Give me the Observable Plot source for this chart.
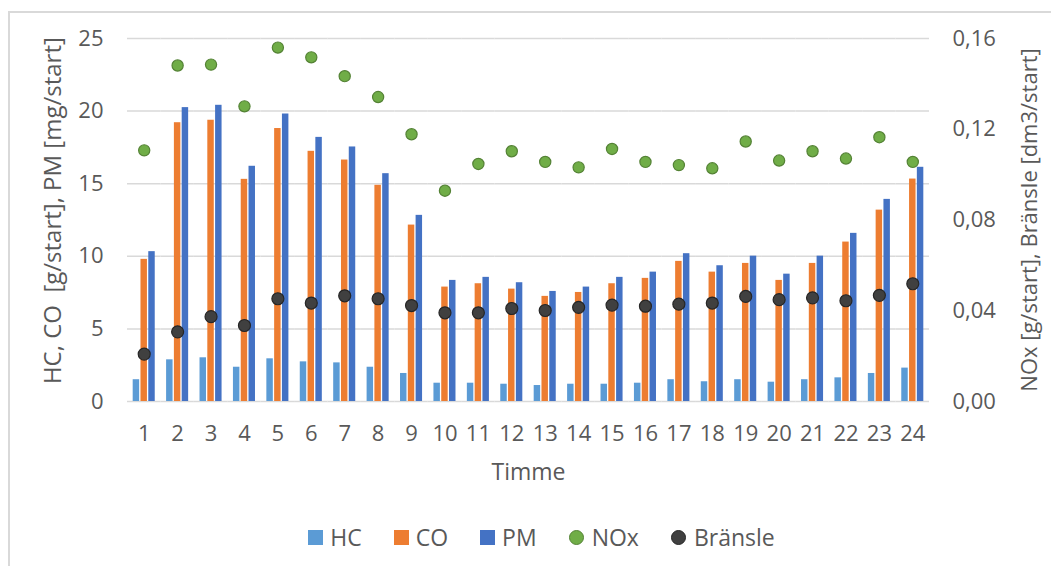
<!DOCTYPE html>
<html>
<head>
<meta charset="utf-8">
<script src="https://cdn.jsdelivr.net/npm/d3@7"></script>
<script src="https://cdn.jsdelivr.net/npm/@observablehq/plot@0.6"></script>
<style>
  html, body { margin: 0; padding: 0; background: #fff; overflow: hidden; }
  body { width: 1051px; height: 566px; position: relative; font-family: "Open Sans", sans-serif; color: #595959; }
  #frame { position: absolute; left: 8px; top: 11px; width: 1060px; height: 570px; border-left: 2px solid #d9d9d9; border-top: 2px solid #d9d9d9; }
  #chart { position: absolute; left: 0; top: 0; }
  #legend { position: absolute; left: 0; top: 522px; width: 1051px; height: 30px; display: flex; justify-content: center; align-items: center; padding-left: 32px; box-sizing: border-box; font-size: 23px; }
  .item { display: flex; align-items: center; margin: 0 16px; }
  .sw { width: 15px; height: 15px; margin-right: 7px; }
  .dot { width: 13px; height: 13px; border-radius: 50%; margin-right: 8px; }
</style>
</head>
<body>
<div id="frame"></div>
<div id="chart"></div>
<div id="legend"></div>
<script>
// ---- data ----
const hours = [1, 2, 3, 4, 5, 6, 7, 8, 9, 10, 11, 12, 13, 14, 15, 16, 17, 18, 19, 20, 21, 22, 23, 24];
const HC = [1.50, 2.87, 3.01, 2.36, 2.94, 2.73, 2.66, 2.36, 1.93, 1.26, 1.26, 1.19, 1.10, 1.19, 1.19, 1.26, 1.50, 1.36, 1.50, 1.33, 1.50, 1.63, 1.93, 2.30];
const CO = [9.79, 19.20, 19.37, 15.30, 18.80, 17.23, 16.63, 14.89, 12.15, 7.88, 8.11, 7.74, 7.24, 7.51, 8.11, 8.48, 9.65, 8.91, 9.51, 8.34, 9.51, 10.98, 13.18, 15.32];
const PM = [10.32, 20.24, 20.40, 16.20, 19.80, 18.19, 17.53, 15.69, 12.82, 8.34, 8.55, 8.18, 7.58, 7.88, 8.55, 8.91, 10.18, 9.35, 10.01, 8.77, 10.01, 11.58, 13.92, 16.13];
const NOx = [0.1107, 0.1481, 0.1485, 0.1301, 0.1560, 0.1517, 0.1434, 0.1342, 0.1178, 0.0929, 0.1047, 0.1103, 0.1056, 0.1032, 0.1113, 0.1056, 0.1042, 0.1028, 0.1146, 0.1062, 0.1103, 0.1071, 0.1165, 0.1056];
const Bransle = [0.0209, 0.0307, 0.0374, 0.0335, 0.0453, 0.0434, 0.0466, 0.0453, 0.0423, 0.0391, 0.0391, 0.0410, 0.0401, 0.0415, 0.0425, 0.0420, 0.0429, 0.0434, 0.0463, 0.0449, 0.0457, 0.0444, 0.0468, 0.0519];
const barSeries = ["HC", "CO", "PM"];
const leftTicks = [0, 5, 10, 15, 20, 25];
const rightTicks = [0, 0.04, 0.08, 0.12, 0.16];
const leftTitle = "\u00a0\u00a0\u00a0HC, CO\u00a0 [g/start], PM [mg/start]";
const rightTitle = "NOx [g/start], Bränsle [dm3/start]";
const xTitle = "Timme";

// ---- styling ----
const colors = {HC: "#5B9BD5", CO: "#ED7D31", PM: "#4472C4", NOx: "#70AD47", "Bränsle": "#404040"};
const K = 25 / 0.16; // secondary axis scale factor

const rows = hours.flatMap((h, i) => [
  {hour: h, series: "HC", value: HC[i]},
  {hour: h, series: "CO", value: CO[i]},
  {hour: h, series: "PM", value: PM[i]}
]);
const pts = hours.map((h, i) => ({hour: h, nox: NOx[i] * K, br: Bransle[i] * K}));

const font = '"Open Sans", sans-serif';
const plot = Plot.plot({
  width: 1051,
  height: 500,
  marginLeft: 127,
  marginRight: 122,
  marginTop: 38,
  marginBottom: 99,
  style: {fontFamily: font, fontSize: "22px", color: "#595959", background: "transparent", overflow: "visible"},
  fx: {domain: hours, paddingInner: 0, paddingOuter: 0, padding: 0, round: false},
  x: {domain: barSeries, paddingInner: 0.17, paddingOuter: 0.73, round: false, axis: null},
  y: {domain: [0, 25]},
  color: {domain: Object.keys(colors), range: Object.values(colors)},
  marks: [
    Plot.gridY(leftTicks, {stroke: "#d9d9d9", strokeOpacity: 1, strokeWidth: 1.5}),
    Plot.barY(rows, {fx: "hour", x: "series", y: "value", fill: "series"}),
    Plot.dot(pts, {fx: "hour", y: "nox", r: 5.6, fill: "#70AD47", stroke: "#548235", strokeWidth: 1.2}),
    Plot.dot(pts, {fx: "hour", y: "br", r: 6, fill: "#404040", stroke: "#262626", strokeWidth: 1.2}),
    Plot.axisY(leftTicks, {anchor: "left", tickSize: 0, tickPadding: 24, fontSize: 22,
      label: leftTitle, labelAnchor: "center", labelOffset: 84, labelArrow: "none"}),
    Plot.axisY(rightTicks.map(v => v * K), {anchor: "right", tickSize: 0, tickPadding: 23, fontSize: 22,
      tickFormat: d => (d / K).toFixed(2).replace(".", ","),
      label: rightTitle, labelAnchor: "center", labelOffset: 107, labelArrow: "none"}),
    Plot.axisFx({anchor: "bottom", tickSize: 0, tickPadding: 24, fontSize: 22,
      label: xTitle, labelAnchor: "center", labelOffset: 78, labelArrow: "none"})
  ]
});
document.getElementById("chart").appendChild(plot);

// enlarge the left axis title and the x-axis title slightly (Excel uses a bigger font there)
plot.querySelectorAll("text").forEach(t => {
  const s = t.textContent;
  if (s === leftTitle) t.setAttribute("font-size", "24");
  if (s === xTitle) t.setAttribute("font-size", "23");
});

// ---- legend ----
const legend = document.getElementById("legend");
const legendItems = [
  {name: "HC", shape: "sq"}, {name: "CO", shape: "sq"}, {name: "PM", shape: "sq"},
  {name: "NOx", shape: "dot"}, {name: "Bränsle", shape: "dot"}
];
for (const it of legendItems) {
  const d = document.createElement("div");
  d.className = "item";
  const m = document.createElement("span");
  m.className = it.shape === "sq" ? "sw" : "dot";
  m.style.background = colors[it.name];
  if (it.shape === "dot") m.style.border = "1px solid " + (it.name === "NOx" ? "#548235" : "#262626");
  const t = document.createElement("span");
  t.textContent = it.name;
  d.appendChild(m); d.appendChild(t);
  legend.appendChild(d);
}
</script>
</body>
</html>
